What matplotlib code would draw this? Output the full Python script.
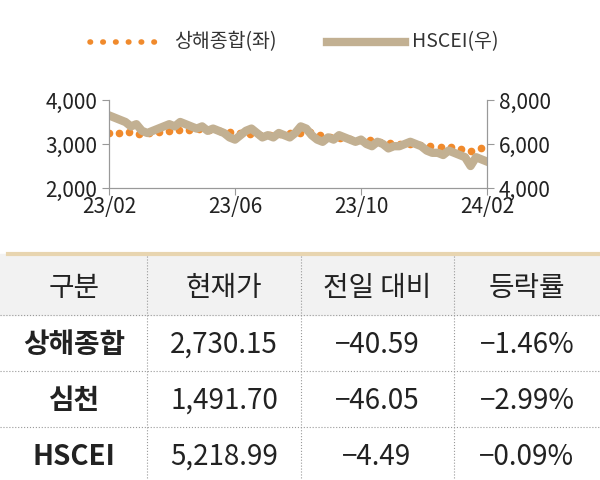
import matplotlib
matplotlib.use("Agg")
import matplotlib.pyplot as plt
import numpy as np
from matplotlib.lines import Line2D

plt.rcParams['font.family'] = ['Noto Sans CJK KR', 'DejaVu Sans']

# months since 2023-02
sh_vals = [3250, 3260, 3270, 3230, 3240, 3280, 3300, 3310, 3320, 3330, 3310, 3300, 3280, 3240,
           3230, 3210, 3200, 3220, 3240, 3260, 3280, 3200, 3150, 3130, 3110, 3100, 3080, 3050,
           3020, 3000, 2990, 2970, 2960, 2940, 2930, 2880, 2850, 2900]
hs_vals = [7300, 7200, 7100, 7000, 6800, 6900, 6600, 6500, 6600, 6700, 6800, 6900, 6800, 7000, 6900,
           6800, 6700, 6800, 6600, 6700, 6600, 6500, 6300, 6200, 6400, 6600, 6700, 6500, 6300, 6400,
           6300, 6500, 6400, 6300, 6500, 6800, 6700, 6400, 6200, 6100, 6300, 6200, 6400, 6300, 6200,
           6100, 6200, 6000, 5900, 6100, 6000, 5800, 5900, 5900, 6000, 6100, 6000, 5900, 5700, 5600,
           5600, 5500, 5700, 5600, 5500, 5400, 5000, 5400, 5300, 5200]
xticks = [0, 4, 8, 12]
xlabels = ['23/02', '23/06', '23/10', '24/02']
header = ['구분', '현재가', '전일 대비', '등락률']
rows = [['상해종합', '2,730.15', '−40.59', '−1.46%'],
        ['심천', '1,491.70', '−46.05', '−2.99%'],
        ['HSCEI', '5,218.99', '−4.49', '−0.09%']]

fig = plt.figure(figsize=(6, 4.8), dpi=100)
ax = fig.add_axes([109/600, 1-188/480, 378/600, 88/480])
ax2 = ax.twinx()
x_sh = np.linspace(0, 11.8, len(sh_vals))
x_hs = np.linspace(0, 12, len(hs_vals))
ax2.plot(x_hs, hs_vals, color='#c2b092', lw=6, solid_joinstyle='round', zorder=2)
ax.plot(x_sh, sh_vals, ls='none', marker='o', ms=4.5, color='#f08a2c', zorder=1)
ax.set_ylim(2000, 4000); ax2.set_ylim(4000, 8000)
ax.set_xlim(0, 12)
ax.set_yticks([2000, 3000, 4000]); ax2.set_yticks([4000, 6000, 8000])
ax.set_yticklabels(['2,000', '3,000', '4,000']); ax2.set_yticklabels(['4,000', '6,000', '8,000'])
ax.set_xticks(xticks); ax.set_xticklabels(xlabels)
for a in (ax, ax2):
    a.spines['top'].set_visible(False)
    for s in ('left', 'right', 'bottom'):
        a.spines[s].set_color('#999999')
    a.tick_params(colors='#999999', labelcolor='#222222', labelsize=15, length=5)
    a.set_facecolor('none')
ax.tick_params(axis='x', pad=1)

# legend
fig.lines.append(Line2D([90/600, 162/600], [1-42/480]*2, ls=(0, (0.1, 2.2)), lw=4,
                        dash_capstyle='round', color='#f08a2c', transform=fig.transFigure))
fig.text(174/600, 1-42/480, '상해종합(좌)', fontsize=14, va='center', color='#333333')
fig.lines.append(Line2D([327/600, 405/600], [1-42/480]*2, lw=6, color='#c2b092', transform=fig.transFigure))
fig.text(412/600, 1-42/480, 'HSCEI(우)', fontsize=14, va='center', color='#333333')

# table
H, W = 480, 600
fig.patches.append(plt.Rectangle((0, 1-315/H), 1, 61/H, color='#f2f2f2', transform=fig.transFigure, zorder=0))
fig.lines.append(Line2D([8/W, 1], [1-254/H]*2, lw=3, color='#e8d5b0', transform=fig.transFigure))
for yy in (315, 371, 427):
    fig.lines.append(Line2D([0, 1], [1-yy/H]*2, lw=0.8, ls=':', color='#999999', transform=fig.transFigure))
for xx in (147, 301, 454):
    fig.lines.append(Line2D([xx/W]*2, [1-256/H, 0], lw=0.8, ls=':', color='#999999', transform=fig.transFigure))
cx = [74, 224, 377, 527]
for c, t in zip(cx, header):
    fig.text(c/W, 1-288/H, t, fontsize=20, ha='center', va='center', color='#222222', fontweight='medium')
for i, r in enumerate(rows):
    yy = 345 + i * 56
    for j, (c, t) in enumerate(zip(cx, r)):
        fig.text(c/W, 1-yy/H, t, fontsize=20, ha='center', va='center', color='#222222',
                 fontweight='bold' if j == 0 else 'normal')

fig.savefig('out.png', dpi=100)
